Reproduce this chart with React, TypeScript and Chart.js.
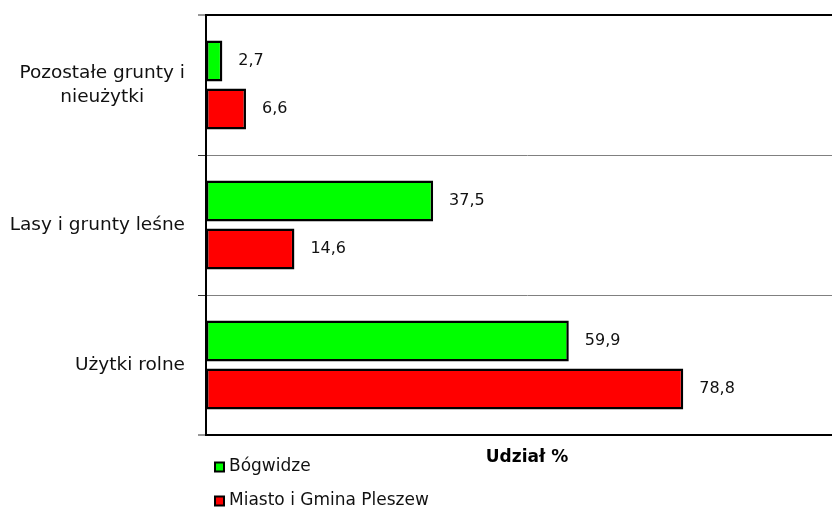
import { useEffect, useRef } from "react";
import { Chart, registerables } from "chart.js";

Chart.register(...registerables);

const categories: (string | string[])[] = [
  ["Pozostałe grunty i", "nieużytki"],
  "Lasy i grunty leśne",
  "Użytki rolne",
];
const seriesNames = ["Bógwidze", "Miasto i Gmina Pleszew"];
const bogwidzeValues = [2.7, 37.5, 59.9];
const pleszewValues = [6.6, 14.6, 78.8];
const seriesColors = ["#00FF00", "#FF0000"];
const axisTitle = "Udział %";
const xMin = 0;
const xMax = 106;

const FONT = "'DejaVu Sans', Verdana, sans-serif";
const TEXT = "#111111";

const fmt = (v: number) => v.toFixed(1).replace(".", ",");

// outer frame lines (top line and bottom axis line) are black and thicker
const isFrameLine = (c: any) => c.type === "scale" || c.index === 0 || c.index === undefined;

const categoryLabelsPlugin = {
  id: "categoryLabels",
  afterDraw(chart: any) {
    const y = chart.scales.y;
    const ctx = chart.ctx as CanvasRenderingContext2D;
    ctx.save();
    ctx.font = `18.5px ${FONT}`;
    ctx.fillStyle = TEXT;
    ctx.textAlign = "center";
    ctx.textBaseline = "middle";
    const right = y.right - 21;
    const lh = 24;
    (chart.data.labels as (string | string[])[]).forEach((lab, i) => {
      const lines = Array.isArray(lab) ? lab : [lab];
      const w = Math.max(...lines.map((l) => ctx.measureText(l).width));
      const cx = right - w / 2;
      const cy = y.getPixelForTick(i);
      lines.forEach((l, j) => {
        ctx.fillText(l, cx, cy + (j - (lines.length - 1) / 2) * lh);
      });
    });
    ctx.restore();
  },
};

const valueLabelsPlugin = {
  id: "valueLabels",
  afterDatasetsDraw(chart: any) {
    const ctx = chart.ctx as CanvasRenderingContext2D;
    ctx.save();
    ctx.font = `16px ${FONT}`;
    ctx.fillStyle = TEXT;
    ctx.textAlign = "left";
    ctx.textBaseline = "middle";
    chart.data.datasets.forEach((ds: any, di: number) => {
      const meta = chart.getDatasetMeta(di);
      meta.data.forEach((el: any, i: number) => {
        ctx.fillText(fmt(ds.data[i]), el.x + 16, el.y);
      });
    });
    ctx.restore();
  },
};

const legendPlugin = {
  id: "sideLegend",
  afterDraw(chart: any) {
    const ctx = chart.ctx as CanvasRenderingContext2D;
    const area = chart.chartArea;
    ctx.save();
    ctx.font = `17px ${FONT}`;
    ctx.textAlign = "left";
    ctx.textBaseline = "middle";
    chart.data.datasets.forEach((ds: any, i: number) => {
      const cy = area.bottom + 32 + i * 34;
      const x = 214;
      const s = 11;
      ctx.fillStyle = "#000";
      ctx.fillRect(x, cy - s / 2, s, s);
      ctx.fillStyle = ds.backgroundColor;
      ctx.fillRect(x + 2, cy - s / 2 + 2, s - 4, s - 4);
      ctx.fillStyle = TEXT;
      ctx.fillText(ds.label, x + 15, cy);
    });
    ctx.restore();
  },
};

export default function App() {
  const ref = useRef<HTMLCanvasElement>(null);

  useEffect(() => {
    if (!ref.current) return;
    const barCommon = {
      borderColor: "#000000",
      borderWidth: 2.5,
      borderSkipped: false,
      inflateAmount: 0,
      categoryPercentage: 0.686,
      barPercentage: 0.854,
    };
    const chart = new Chart(ref.current, {
      type: "bar",
      data: {
        labels: categories,
        datasets: [
          {
            label: seriesNames[0],
            data: bogwidzeValues,
            backgroundColor: seriesColors[0],
            ...barCommon,
          },
          {
            label: seriesNames[1],
            data: pleszewValues,
            backgroundColor: seriesColors[1],
            ...barCommon,
          },
        ],
      },
      options: {
        indexAxis: "y",
        responsive: false,
        animation: false,
        layout: { padding: { top: 15, left: 0, right: 0, bottom: 0 } },
        plugins: {
          legend: { display: false },
          tooltip: { enabled: false },
          title: { display: false },
        },
        scales: {
          x: {
            type: "linear",
            min: xMin,
            max: xMax,
            grid: { display: false, drawTicks: false },
            border: { display: false },
            ticks: { display: false },
            title: {
              display: true,
              text: axisTitle,
              color: "#000",
              font: { family: FONT, size: 17, weight: "bold" },
              padding: { top: 0, bottom: 41 },
            },
            afterFit: (scale: any) => {
              scale.height = 74;
            },
          },
          y: {
            type: "category",
            grid: {
              offset: true,
              drawOnChartArea: true,
              drawTicks: true,
              tickLength: 8,
              color: (c: any) => (isFrameLine(c) ? "#000000" : "#808080"),
              lineWidth: (c: any) => (isFrameLine(c) ? 2 : 1),
              tickColor: "#333333",
              tickWidth: 1,
            },
            border: { display: true, color: "#000000", width: 2 },
            ticks: { display: false },
            afterFit: (scale: any) => {
              scale.width = 206;
            },
          },
        },
      } as any,
      plugins: [categoryLabelsPlugin, valueLabelsPlugin, legendPlugin],
    });
    return () => chart.destroy();
  }, []);

  return (
    <div
      style={{
        position: "absolute",
        left: 0,
        top: 0,
        width: 832,
        height: 509,
        overflow: "hidden",
        background: "#ffffff",
      }}
    >
      <canvas ref={ref} width={848} height={509} style={{ display: "block", width: 848, height: 509 }} />
    </div>
  );
}
